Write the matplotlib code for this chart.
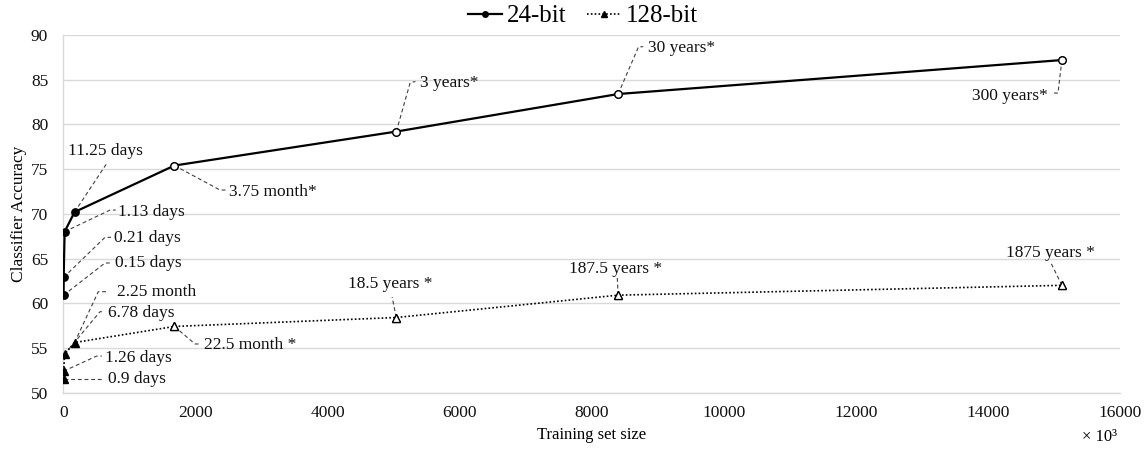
import numpy as np
import matplotlib
matplotlib.use("Agg")
import matplotlib.pyplot as plt

plt.rcParams["font.family"] = ["Liberation Serif", "DejaVu Serif"]

# training set size (x 10^3) and classifier accuracy
sizes = [2, 3, 17, 168, 1680, 5040, 8400, 15120]
acc_24 = [60.9, 62.9, 68.0, 70.2, 75.4, 79.2, 83.4, 87.2]
acc_128 = [51.5, 52.4, 54.3, 55.6, 57.4, 58.4, 60.9, 62.0]
n_measured = 4  # later points are extrapolated (starred)

time_24 = ["0.15 days", "0.21 days", "1.13 days", "11.25 days",
           "3.75 month*", "3 years*", "30 years*", "300 years*"]
time_128 = ["0.9 days", "1.26 days", "6.78 days", "2.25 month",
            "22.5 month *", "18.5 years *", "187.5 years *", "1875 years *"]

# label placement: text position, alignment, and leader-line bend points
place_24 = [
    ((780, 64.46), "left", "center", [(629, 64.50), (730, 64.50)]),
    ((770, 67.34), "left", "center", [(629, 67.37), (720, 67.37)]),
    ((830, 70.23), "left", "center", [(705, 70.42), (790, 70.42)]),
    ((73, 77.06), "left", "center", [(659, 75.68)]),
    ((2512, 72.47), "left", "center", [(2371, 72.66), (2460, 72.66)]),
    ((5402, 84.66), "left", "center", [(5250, 84.66), (5330, 84.80)]),
    ((8846, 88.51), "left", "center", [(8709, 88.69), (8780, 88.69)]),
    ((14902, 83.18), "right", "center", [(15061, 83.51), (14978, 83.51)]),
]
place_128 = [
    ((679, 51.5), "left", "center", [(579, 51.5)]),
    ((629, 53.84), "left", "center", [(503, 54.09), (580, 54.09)]),
    ((679, 58.87), "left", "center", [(553, 59.05), (620, 59.05)]),
    ((806, 61.29), "left", "center", [(527, 61.29), (650, 61.29)]),
    ((2129, 55.32), "left", "center", [(1992, 55.44), (2070, 55.44)]),
    ((4947, 62.15), "center", "center", [(4977, 60.69)]),
    ((8364, 63.79), "center", "center", [(8387, 62.82)]),
    ((14947, 65.65), "center", "center", [(14947, 64.61)]),
]

fig = plt.figure(figsize=(11.46, 4.49), dpi=100)
ax = fig.add_axes([0.0554, 0.1256, 0.9219, 0.7964])

grid_c = "#d9d9d9"
ax.plot(sizes, acc_24, color="black", lw=1.6, marker="o", ms=5.3,
        mfc="black", mec="black", label="24-bit", zorder=3)
ax.plot(sizes[n_measured:], acc_24[n_measured:], ls="none", marker="o",
        ms=5.3, mfc="white", mec="black", mew=0.9, zorder=4)
ax.plot(sizes, acc_128, color="black", lw=1.2, ls=(0, (1, 1.3)), marker="^",
        ms=5.3, mfc="black", mec="black", label="128-bit", zorder=3)
ax.plot(sizes[n_measured:], acc_128[n_measured:], ls="none", marker="^",
        ms=5.3, mfc="white", mec="black", mew=0.9, zorder=4)


def add_labels(xs, ys, texts, places):
    for x, y, txt, (pos, ha, va, bends) in zip(xs, ys, texts, places):
        lx = [x] + [b[0] for b in bends]
        ly = [y] + [b[1] for b in bends]
        ax.plot(lx, ly, color="#404040", lw=0.8, ls=(0, (3.5, 2.5)), zorder=2)
        ax.text(pos[0], pos[1], txt, ha=ha, va=va, fontsize=12.5, color="#111111")


add_labels(sizes, acc_24, time_24, place_24)
add_labels(sizes, acc_128, time_128, place_128)

ax.set_xlim(0, 16000)
ax.set_ylim(50, 90)
ax.set_xticks(np.arange(0, 16001, 2000))
ax.set_yticks(np.arange(50, 91, 5))
ax.tick_params(axis="both", length=0, labelsize=12.5, colors="#111111")
ax.tick_params(axis="y", pad=11)
ax.tick_params(axis="x", pad=9)
ax.grid(axis="y", color=grid_c, lw=1)
ax.set_axisbelow(True)
for s in ("top", "right"):
    ax.spines[s].set_visible(False)
for s in ("left", "bottom"):
    ax.spines[s].set_color(grid_c)
    ax.spines[s].set_linewidth(1)

ax.set_ylabel("Classifier Accuracy", fontsize=12.5, labelpad=3)
ax.set_xlabel("Training set size", fontsize=12, labelpad=4)
fig.text(1117 / 1146, 1 - 437 / 449, "× 10³", ha="right", va="center", fontsize=12)

fig.legend(loc="center", bbox_to_anchor=(583 / 1146, 1 - 16 / 449), ncol=2,
           frameon=False, fontsize=18, handlelength=1.35, handletextpad=0.2,
           columnspacing=0.8, borderpad=0, markerscale=0.75)

fig.savefig("out.png", dpi=100)
